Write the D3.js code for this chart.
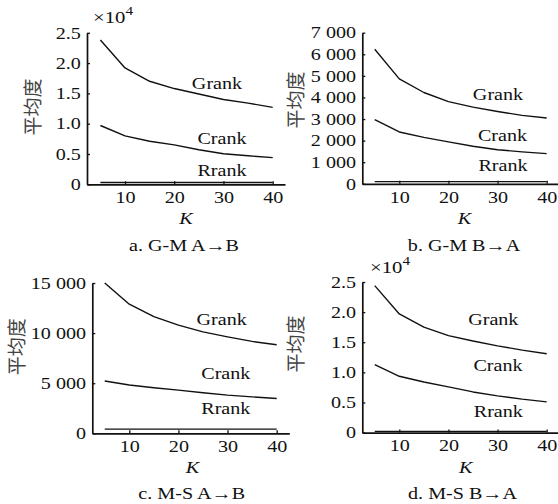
<!DOCTYPE html>
<html>
<head>
<meta charset="utf-8">
<script src="https://cdn.jsdelivr.net/npm/d3@7"></script>
<style>
  html, body { margin: 0; padding: 0; background: #fff; }
  svg { display: block; }
  text { font-family: "Liberation Serif", "Times New Roman", serif; fill: #111; }
</style>
</head>
<body>
<script>
// ---------------- data ----------------
const K = [5, 10, 15, 20, 25, 30, 35, 40];
const seriesNames = ["Grank", "Crank", "Rrank"];
const xTicks = [10, 20, 30, 40];

const aGrank = [23800, 19200, 17000, 15800, 14900, 14000, 13400, 12700];
const aCrank = [9700, 8000, 7100, 6500, 5700, 5050, 4700, 4400];
const aRrank = [300, 300, 300, 300, 300, 300, 300, 300];

const bGrank = [6230, 4860, 4230, 3810, 3550, 3350, 3170, 3050];
const bCrank = [2970, 2400, 2150, 1940, 1740, 1580, 1480, 1400];
const bRrank = [100, 100, 100, 100, 100, 100, 100, 100];

const cGrank = [15000, 12880, 11640, 10790, 10120, 9620, 9170, 8840];
const cCrank = [5220, 4820, 4550, 4310, 4050, 3810, 3640, 3470];
const cRrank = [420, 420, 420, 420, 420, 420, 420, 420];

const dGrank = [24400, 19700, 17500, 16100, 15200, 14400, 13700, 13100];
const dCrank = [11300, 9350, 8400, 7600, 6750, 6100, 5550, 5100];
const dRrank = [200, 200, 200, 200, 200, 200, 200, 200];

const aTicks = [0, 5000, 10000, 15000, 20000, 25000];
const aTickLabels = ["0", "0.5", "1.0", "1.5", "2.0", "2.5"];
const bTicks = [0, 1000, 2000, 3000, 4000, 5000, 6000, 7000];
const bTickLabels = ["0", "1 000", "2 000", "3 000", "4 000", "5 000", "6 000", "7 000"];
const cTicks = [0, 5000, 10000, 15000];
const cTickLabels = ["0", "5 000", "10 000", "15 000"];
const dTicks = [0, 5000, 10000, 15000, 20000, 25000];
const dTickLabels = ["0", "0.5", "1.0", "1.5", "2.0", "2.5"];

const captions = ["a. G-M A\u2192B", "b. G-M B\u2192A", "c. M-S A\u2192B", "d. M-S B\u2192A"];
const yTitle = "平均度";
const xTitle = "K";
const multiplier = "\u00d710";

// ---------------- layout ----------------
const W = 558, H = 504;
const SX = 1.22;   // horizontal stretch of the Latin text
const FS = 16.5;

const panels = [
  { series: [aGrank, aCrank, aRrank], ticks: aTicks, labels: aTickLabels, yMax: 25000,
    x0: 87, x1: 285, xDom: [2.28, 42.5], yB: 184.3, yT: 32.8,
    lab: [[217, 89], [222, 144], [222, 175.5]], yt: [33, 107], kx: [186, 223.5],
    cap: [184, 251], mult: [93, 23.3] },
  { series: [bGrank, bCrank, bRrank], ticks: bTicks, labels: bTickLabels, yMax: 7000,
    x0: 362.3, x1: 560, xDom: [2.47, 42.71], yB: 183.8, yT: 32.7,
    lab: [[498, 100], [502.5, 140.5], [503, 170.5]], yt: [296.5, 100], kx: [464.5, 223.5],
    cap: [464, 251], mult: null },
  { series: [cGrank, cCrank, cRrank], ticks: cTicks, labels: cTickLabels, yMax: 15000,
    x0: 92.3, x1: 289.3, xDom: [2.47, 42.57], yB: 433.3, yT: 283,
    lab: [[221.7, 325], [225.8, 379.3], [225.8, 414.3]], yt: [17.5, 346.7], kx: [192.5, 472.7],
    cap: [191.7, 498.5], mult: null },
  { series: [dGrank, dCrank, dRrank], ticks: dTicks, labels: dTickLabels, yMax: 25000,
    x0: 362.3, x1: 560, xDom: [2.47, 42.71], yB: 432.6, yT: 282,
    lab: [[493.3, 325], [498, 370.7], [498.3, 416.7]], yt: [296.5, 344], kx: [465.8, 472.7],
    cap: [462.5, 498.5], mult: [370, 273.3] }
];

const svg = d3.select("body").append("svg")
  .attr("width", W).attr("height", H).attr("viewBox", `0 0 ${W} ${H}`);

function stretchedText(g, x, y, str, anchor, opts = {}) {
  const t = g.append("text")
    .attr("transform", `translate(${x},${y}) scale(${SX},1)`)
    .attr("text-anchor", anchor)
    .style("font-size", (opts.size || FS) + "px")
    .text(str);
  if (opts.italic) t.style("font-style", "italic");
  return t;
}

panels.forEach((p, pi) => {
  const g = svg.append("g");
  const x = d3.scaleLinear().domain(p.xDom).range([p.x0, p.x1]);
  const y = d3.scaleLinear().domain([0, p.yMax]).range([p.yB, p.yT]);

  // lines
  const line = d3.line().x((d, i) => x(K[i])).y(d => y(d));
  p.series.forEach((s) => {
    g.append("path").datum(s).attr("d", line)
      .attr("fill", "none").attr("stroke", "#111").attr("stroke-width", 1.4)
      .attr("stroke-linejoin", "round");
  });

  // x axis
  const xa = g.append("g").attr("transform", `translate(0,${p.yB})`)
    .call(d3.axisBottom(x).tickValues(xTicks).tickSizeInner(-3).tickSizeOuter(0).tickPadding(7));
  // y axis
  const ya = g.append("g").attr("transform", `translate(${p.x0},0)`)
    .call(d3.axisLeft(y).tickValues(p.ticks).tickFormat((d, i) => p.labels[i])
      .tickSizeInner(-3).tickSizeOuter(0).tickPadding(5));

  [xa, ya].forEach(a => {
    a.select(".domain").attr("stroke", "#111").attr("stroke-width", 1.7);
    a.selectAll(".tick line").attr("stroke", "#111").attr("stroke-width", 1.3);
    a.selectAll(".tick text")
      .attr("fill", "#111")
      .style("font-family", '"Liberation Serif", serif')
      .style("font-size", FS + "px")
      .attr("transform", `scale(${SX},1)`);
  });
  ya.selectAll(".tick text").attr("x", -5 / SX - 1);

  // series labels
  seriesNames.forEach((n, i) => stretchedText(g, p.lab[i][0], p.lab[i][1], n, "middle"));

  // y title
  g.append("text")
    .attr("transform", `translate(${p.yt[0]},${p.yt[1]}) rotate(-90)`)
    .attr("text-anchor", "middle").attr("dy", "0.36em")
    .style("font-family", '"Noto Sans CJK SC", sans-serif')
    .style("font-size", "19px").style("fill", "#444")
    .text(yTitle);

  // x title
  stretchedText(g, p.kx[0], p.kx[1], xTitle, "middle", { italic: true });

  // caption
  stretchedText(g, p.cap[0], p.cap[1], captions[pi], "middle");

  // multiplier
  if (p.mult) {
    const t = g.append("text")
      .attr("transform", `translate(${p.mult[0]},${p.mult[1]}) scale(${SX},1)`)
      .style("font-size", "17px");
    t.append("tspan").text(multiplier);
    t.append("tspan").attr("dy", -8).style("font-size", "12.5px").text("4");
  }
});
</script>
</body>
</html>
